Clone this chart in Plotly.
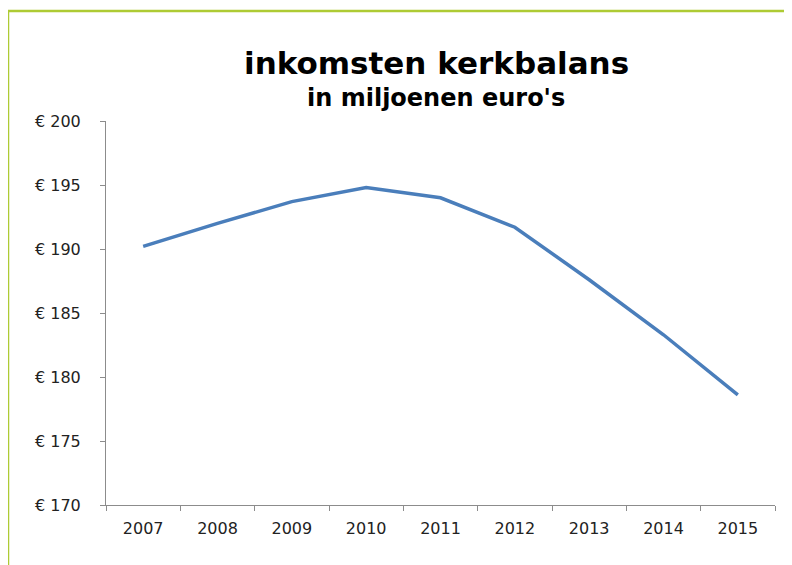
import plotly.graph_objects as go

years = ["2007", "2008", "2009", "2010", "2011", "2012", "2013", "2014", "2015"]
income = [190.2, 192.0, 193.7, 194.8, 194.0, 191.7, 187.6, 183.3, 178.6]
y_tickvals = [170, 175, 180, 185, 190, 195, 200]
y_ticktext = ["€ 170", "€ 175", "€ 180", "€ 185", "€ 190", "€ 195", "€ 200"]

# page body offsets the figure by 8px; work in screen pixels and convert
OFF = 8
W, H = 792, 565
L, T = 106 - OFF, 121 - OFF
R = W - (775 - OFF)
B = H - (505 - OFF)
pw, ph = W - L - R, H - T - B

def px_x(p):  # screen px -> paper
    return (p - OFF - L) / pw

def px_y(p):
    return (H - B - (p - OFF)) / ph

fig = go.Figure()
fig.add_trace(go.Scatter(
    x=years, y=income, mode="lines",
    line=dict(color="#4A7EBB", width=3.5),
    hoverinfo="x+y",
))

border = "#AECB34"
fig.add_shape(type="line", xref="paper", yref="paper",
              x0=px_x(7), x1=px_x(810), y0=px_y(11), y1=px_y(11),
              line=dict(color=border, width=2.5))
fig.add_shape(type="line", xref="paper", yref="paper",
              x0=px_x(8), x1=px_x(8), y0=px_y(10), y1=px_y(590),
              line=dict(color=border, width=2.5))

fig.update_layout(
    width=W, height=H,
    margin=dict(l=L, r=R, t=T, b=B),
    paper_bgcolor="white", plot_bgcolor="white",
    showlegend=False,
    font=dict(family="DejaVu Sans, Verdana, sans-serif", color="#222222"),
    annotations=[
        dict(text="<b>inkomsten kerkbalans</b>", xref="paper", yref="paper",
             x=px_x(436.5), y=px_y(83), xanchor="center", yanchor="bottom",
             showarrow=False, font=dict(size=31, color="black")),
        dict(text="<b>in miljoenen euro's</b>", xref="paper", yref="paper",
             x=px_x(436), y=px_y(114), xanchor="center", yanchor="bottom",
             showarrow=False, font=dict(size=24, color="black")),
    ],
)

fig.update_xaxes(
    type="category", range=[-0.5, 8.5],
    showline=True, linecolor="#8c8c8c", linewidth=1,
    ticks="outside", tickson="boundaries", ticklen=5, tickcolor="#8c8c8c",
    showgrid=False, zeroline=False,
    tickfont=dict(size=16, color="#222222"),
    ticklabelstandoff=9,
)
fig.update_yaxes(
    range=[170, 200], tickvals=y_tickvals, ticktext=y_ticktext,
    showline=True, linecolor="#8c8c8c", linewidth=1,
    ticks="outside", ticklen=5, tickcolor="#8c8c8c",
    showgrid=False, zeroline=False,
    tickfont=dict(size=16, color="#222222"),
    ticklabelstandoff=16,
)

fig.write_html("out.html")
